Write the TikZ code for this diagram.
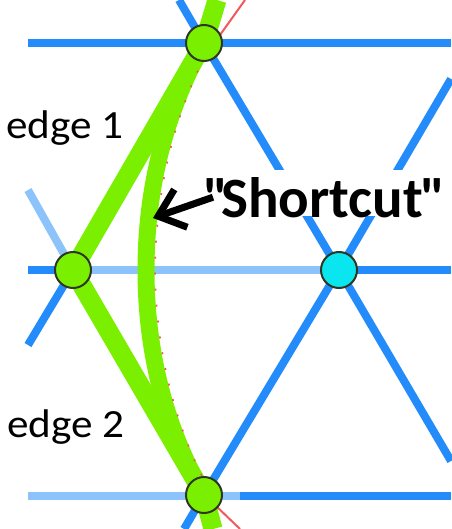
\documentclass[tikz,border=0pt]{standalone}
\usepackage{fontspec}
\usepackage{graphicx}
\setmainfont{Carlito}[Ligatures=TeXOff]
\usetikzlibrary{arrows.meta,calc}
\definecolor{bdark}{RGB}{35,140,250}
\definecolor{blight}{RGB}{140,195,250}
\definecolor{gpath}{RGB}{122,240,0}
\definecolor{cnode}{RGB}{10,230,240}
\definecolor{nline}{RGB}{45,55,35}
\definecolor{rline}{RGB}{240,90,90}
\begin{document}
\begin{tikzpicture}[x=1pt,y=-1pt,
  latd/.style={draw=bdark,line width=8pt},
  latl/.style={draw=blight,line width=8pt},
  gline/.style={draw=gpath,line width=19pt,line join=round},
  gcurve/.style={draw=gpath,line width=17pt},
  vtx/.style={circle,draw=nline,line width=2pt,fill=gpath,minimum size=36pt,inner sep=0pt},
  cvtx/.style={vtx,fill=cnode},
  lbl/.style={anchor=base west,inner sep=0pt,font=\fontsize{40}{48}\selectfont}]
\useasboundingbox (0,0) rectangle (451,529);
% positions
\coordinate (pT) at (204,43);
\coordinate (pL) at (73,270);
\coordinate (pC) at (339,270);
\coordinate (pB) at (204,495);
% lattice
\draw[latd] (28,43) -- (451,43);
\draw[latd] (28,270) -- (pL);
\draw[latl] (pL) -- (pC);
\draw[latd] (pC) -- (451,270);
\draw[latl] (28,496) -- (240,496);
\draw[latd] (240,496) -- (451,496);
\draw[latd] (179,0) -- (pT) -- (pC);
\draw[latd] (pC) -- (451,79);
\draw[latd] (pC) -- (451,461);
\draw[latd] (pC) -- (pB) -- (184,529);
\draw[latl] (pL) -- (28,190);
\draw[latd] (pL) -- (28,345);
% white box behind the label
\fill[white] (200,170) rectangle (451,216);
% green paths
\coordinate (gtop) at (217,0);
\coordinate (gbot) at (213,529);
\coordinate (mid) at (146,270);
\draw[gline] (gtop) -- (pT) -- (pL) -- (pB) -- (gbot);
\draw[gcurve] (pT) .. controls (172,100) and (146,175) .. (mid)
                   .. controls (146,365) and (172,440) .. (pB);
% red geodesic traces
\draw[rline,line width=2pt] (220,35) -- (245,0);
\draw[rline,line width=2pt] (215,505) -- (240,529);
\draw[rline,line width=1.6pt,dash pattern=on 2pt off 14pt]
  (212,42) .. controls (181,100) and (156,175) .. (155,270)
  .. controls (156,365) and (181,440) .. (213,497);
% vertices
\node[vtx] (T) at (pT) {};
\node[vtx] (L) at (pL) {};
\node[cvtx] (C) at (pC) {};
\node[vtx] (B) at (pB) {};
% labels
\node[lbl] (e1) at (6,139) {\scalebox{1.08}[1]{edge 1}};
\node[lbl] (e2) at (7,437) {\scalebox{1.08}[1]{edge 2}};
\node[anchor=base west,inner sep=0pt,font=\bfseries\fontsize{57}{60}\selectfont] (sc) at (203,217)
  {"\kern-0.12em Shortcut\kern-0.04em"};
\coordinate (tip) at (153,218);
\draw[line width=7pt,-{Straight Barb[length=24pt,width=40pt]}] ([xshift=10pt]sc.west) -- (tip);
\end{tikzpicture}
\end{document}
